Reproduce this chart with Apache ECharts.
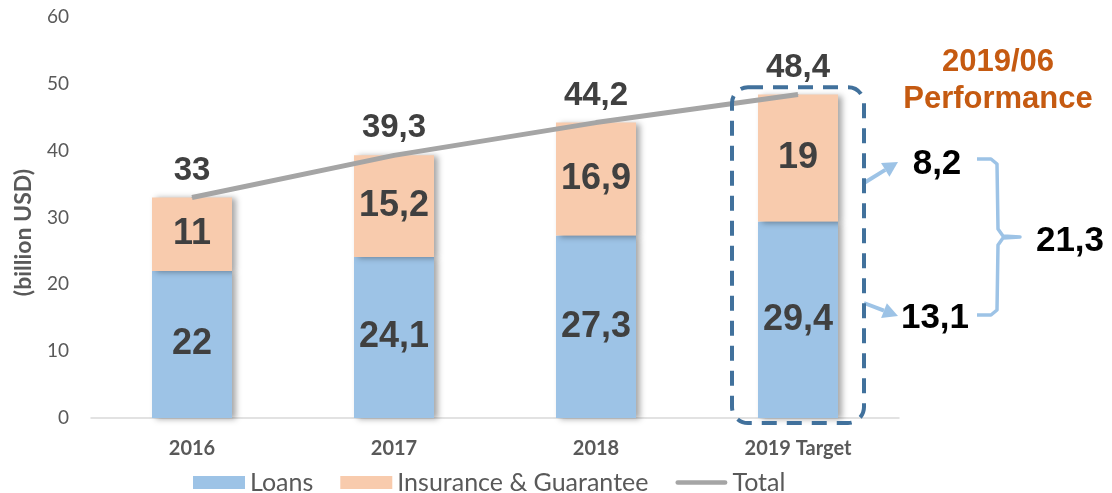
<!DOCTYPE html>
<html>
<head>
<meta charset="utf-8">
<script src="https://cdn.jsdelivr.net/npm/echarts@6/dist/echarts.min.js"></script>
<style>
    html, body { margin: 0; padding: 0; background: #fff; }
</style>
</head>
<body>
<div id="main" style="width: 1112px;height:493px;"></div>
<script type="text/javascript">
    // data
    var categories = ['2016', '2017', '2018', '2019 Target'];
    var loans = [22, 24.1, 27.3, 29.4];
    var insurance = [11, 15.2, 16.9, 19];
    var totals = [33, 39.3, 44.2, 48.4];
    var yTicks = [0, 10, 20, 30, 40, 50, 60];
    // 2019/06 performance
    var perfInsurance = 8.2;
    var perfLoans = 13.1;
    var perfTotal = 21.3;

    function comma(v) {
        return String(v).replace('.', ',');
    }

    var axisFont = 'Lato, "Open Sans", sans-serif';
    var labelFont = '"Liberation Sans", Arial, sans-serif';
    var barShadow = {
        shadowColor: 'rgba(0,0,0,0.35)',
        shadowBlur: 6,
        shadowOffsetX: 4,
        shadowOffsetY: 1
    };
    var barLabel = {
        show: true,
        position: 'inside',
        formatter: function (p) { return comma(p.value); },
        fontFamily: labelFont,
        fontWeight: 'bold',
        fontSize: 36,
        color: '#404040'
    };

    var myChart = echarts.init(document.getElementById('main'));

    var option = {
        animation: false,
        grid: { left: 91, right: 213, top: 17, bottom: 75 },
        legend: {
            left: 188,
            top: 465,
            itemWidth: 52,
            itemHeight: 13,
            itemGap: 27,
            textStyle: { fontFamily: axisFont, fontSize: 25, color: '#595959' },
            data: [
                { name: 'Loans', icon: 'rect' },
                { name: 'Insurance & Guarantee', icon: 'rect' },
                { name: 'Total', icon: 'path://M2.5,0 L52.5,0 A2.5,2.5 0 0 1 52.5,5 L2.5,5 A2.5,2.5 0 0 1 2.5,0 Z' }
            ]
        },
        xAxis: {
            type: 'category',
            data: categories,
            axisLine: { lineStyle: { color: '#D9D9D9', width: 1.5 } },
            axisTick: { show: false },
            axisLabel: {
                margin: 21,
                fontFamily: axisFont,
                fontWeight: 'bold',
                fontSize: 20,
                color: '#595959'
            }
        },
        yAxis: {
            type: 'value',
            min: yTicks[0],
            max: yTicks[yTicks.length - 1],
            interval: 10,
            name: '(billion USD)',
            nameLocation: 'middle',
            nameGap: 56,
            nameRotate: 90,
            nameTextStyle: {
                fontFamily: axisFont,
                fontWeight: 'bold',
                fontSize: 23,
                color: '#595959',
                padding: [0, 30, 0, 0]
            },
            axisLine: { show: false },
            axisTick: { show: false },
            splitLine: { show: false },
            axisLabel: {
                margin: 22,
                fontFamily: axisFont,
                fontSize: 19,
                color: '#595959'
            }
        },
        series: [
            {
                name: 'Loans',
                type: 'bar',
                stack: 'total',
                barWidth: 80,
                data: loans,
                itemStyle: Object.assign({ color: '#9DC3E6' }, barShadow),
                label: barLabel
            },
            {
                name: 'Insurance & Guarantee',
                type: 'bar',
                stack: 'total',
                barWidth: 80,
                data: insurance,
                itemStyle: Object.assign({ color: '#F8CBAD' }, barShadow),
                label: barLabel
            },
            {
                name: 'Total',
                type: 'line',
                data: totals,
                symbol: 'circle',
                symbolSize: 1,
                showSymbol: true,
                z: 5,
                lineStyle: { color: '#A5A5A5', width: 5 },
                itemStyle: { color: '#A5A5A5' },
                label: {
                    show: true,
                    position: 'top',
                    distance: 10,
                    formatter: function (p) { return comma(p.value); },
                    fontFamily: labelFont,
                    fontWeight: 'bold',
                    fontSize: 33,
                    color: '#404040'
                }
            }
        ]
    };

    myChart.setOption(option);

    // annotation round the 2019 Target bar
    var bottomPt = myChart.convertToPixel({ gridIndex: 0 }, ['2019 Target', 0]);
    var topPt = myChart.convertToPixel({ gridIndex: 0 }, ['2019 Target', 49.5]);
    var rx1 = bottomPt[0] - 66, rx2 = bottomPt[0] + 66;
    var ry1 = topPt[1], ry2 = bottomPt[1] + 5;
    var blue = '#9DC3E6';

    function arrow(x1, y1, x2, y2) {
        var a = Math.atan2(y2 - y1, x2 - x1);
        var L = 15, W = 8;
        var bx = x2 - L * Math.cos(a), by = y2 - L * Math.sin(a);
        return [
            {
                type: 'polyline',
                shape: { points: [[x1, y1], [bx, by]] },
                style: { stroke: blue, lineWidth: 4, fill: null }
            },
            {
                type: 'polygon',
                shape: {
                    points: [
                        [x2, y2],
                        [bx + W * Math.sin(a), by - W * Math.cos(a)],
                        [bx - W * Math.sin(a), by + W * Math.cos(a)]
                    ]
                },
                style: { fill: blue }
            }
        ];
    }

    function txt(s, x, y, size, color) {
        return {
            type: 'text',
            x: x,
            y: y,
            style: {
                text: s,
                font: 'bold ' + size + 'px "Liberation Sans", Arial, sans-serif',
                fill: color,
                textAlign: 'center',
                textVerticalAlign: 'middle'
            }
        };
    }

    var graphics = [
        {
            type: 'rect',
            shape: { x: rx1, y: ry1, width: rx2 - rx1, height: ry2 - ry1, r: 16 },
            style: { fill: null, stroke: '#41719C', lineWidth: 4, lineDash: [15, 10] },
            z: 10
        },
        // brace
        {
            type: 'polyline',
            shape: {
                points: [[977, 159], [991, 159], [997, 164], [998, 229], [1003, 236], [1020, 237],
                         [1003, 238], [998, 245], [997, 310], [991, 315], [977, 315]]
            },
            style: { stroke: blue, lineWidth: 3.5, fill: null, lineJoin: 'round' }
        },
        txt('2019/06', 998, 62, 31, '#C55A11'),
        txt('Performance', 998, 99, 31, '#C55A11'),
        txt(comma(perfInsurance), 937, 164, 35, '#000'),
        txt(comma(perfLoans), 935, 318, 35, '#000'),
        txt(comma(perfTotal), 1070, 241, 35, '#000')
    ];
    graphics = graphics.concat(arrow(rx2, 183, 898, 162));
    graphics = graphics.concat(arrow(rx2, 303, 898, 316));

    myChart.setOption({ graphic: { elements: graphics } });
</script>
</body>
</html>
